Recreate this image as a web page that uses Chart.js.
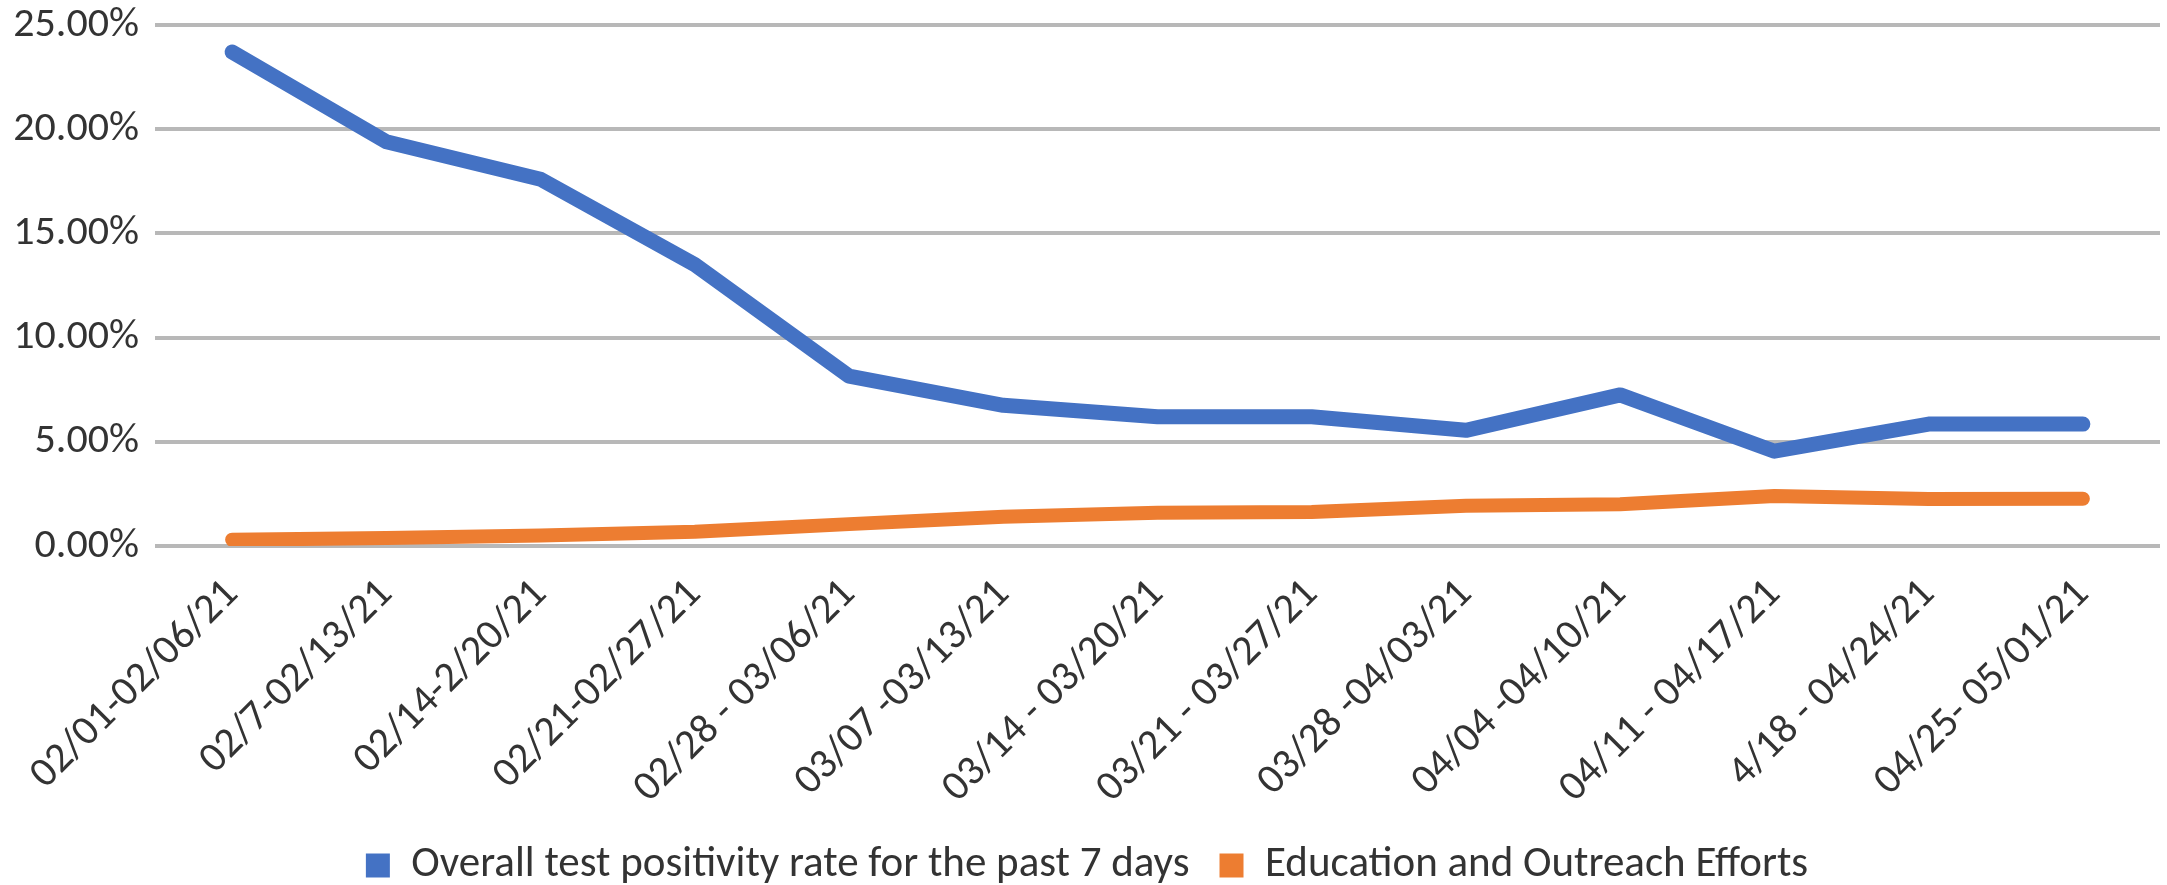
<!DOCTYPE html>
<html>
<head>
<meta charset="utf-8">
<title>Test positivity</title>
<script src="https://cdn.jsdelivr.net/npm/chart.js@4/dist/chart.umd.min.js"></script>
<style>
  html, body { margin: 0; padding: 0; background: #fff; }
  #wrap { width: 2167px; height: 885px; }
</style>
</head>
<body>
<div id="wrap"><canvas id="chart" width="2167" height="885"></canvas></div>
<script>
// week ranges, as written on the x axis
const weeks = [
    '02/01-02/06/21', '02/7-02/13/21', '02/14-2/20/21', '02/21-02/27/21',
    '02/28 - 03/06/21', '03/07 -03/13/21', '03/14 - 03/20/21', '03/21 - 03/27/21',
    '03/28 -04/03/21', '04/04 -04/10/21', '04/11 - 04/17/21', '4/18 - 04/24/21',
    '04/25- 05/01/21'
];

// as fractions
const positivity = [0.237, 0.194, 0.176, 0.135, 0.0815, 0.0675, 0.062, 0.062, 0.0555, 0.0725, 0.0455, 0.0585, 0.0585];
const outreach = [0.003, 0.0038, 0.005, 0.0068, 0.0105, 0.014, 0.016, 0.0163, 0.0193, 0.02, 0.024, 0.0225, 0.0227];

const yTicks = [0, 0.05, 0.10, 0.15, 0.20, 0.25];

const FONT = "Carlito, 'Liberation Sans Narrow', 'Open Sans', sans-serif";
const TEXT = '#333333';

const ctx = document.getElementById('chart').getContext('2d');
new Chart(ctx, {
    type: 'line',
    data: {
        labels: weeks,
        datasets: [
            {
                label: 'Overall test positivity rate for the past 7 days',
                data: positivity,
                borderColor: '#4472C4',
                backgroundColor: '#4472C4',
                borderWidth: 15,
                borderCapStyle: 'round',
                borderJoinStyle: 'round',
                pointRadius: 0,
                tension: 0
            },
            {
                label: 'Education and Outreach Efforts',
                data: outreach,
                borderColor: '#ED7D31',
                backgroundColor: '#ED7D31',
                borderWidth: 14,
                borderCapStyle: 'round',
                borderJoinStyle: 'round',
                pointRadius: 0,
                tension: 0
            }
        ]
    },
    options: {
        responsive: false,
        devicePixelRatio: 1,
        animation: false,
        // negative bottom pulls the legend towards the edge, like the original
        layout: { padding: { top: 0, right: 7, left: 14, bottom: -12 } },
        plugins: {
            tooltip: { enabled: false },
            legend: {
                position: 'bottom',
                labels: {
                    color: TEXT,
                    font: { family: FONT, size: 43, lineHeight: 1.1 },
                    boxWidth: 24,
                    boxHeight: 24,
                    padding: 30,
                    // plain filled squares, no thick stroke from the line width
                    generateLabels: function(chart) {
                        const items = Chart.defaults.plugins.legend.labels.generateLabels(chart);
                        return items.map(it => Object.assign(it, { lineWidth: 0 }));
                    }
                }
            }
        },
        scales: {
            x: {
                offset: true,
                grid: { display: false },
                border: { display: false },
                ticks: {
                    color: TEXT,
                    font: { family: FONT, size: 42 },
                    minRotation: 45,
                    maxRotation: 45,
                    padding: 16,
                    autoSkip: false
                },
                afterFit: function(scale) { scale.height = 268; }
            },
            y: {
                min: 0,
                max: 0.25,
                afterBuildTicks: function(scale) {
                    scale.ticks = yTicks.map(v => ({ value: v }));
                },
                grid: { color: '#b8b8b8', lineWidth: 4, drawTicks: false },
                border: { display: false },
                ticks: {
                    color: TEXT,
                    font: { family: FONT, size: 42, lineHeight: 1 },
                    padding: 16,
                    callback: v => (v * 100).toFixed(2) + '%'
                },
                afterFit: function(scale) {
                    scale.width = 141;
                    scale.paddingTop = 25; // top gridline sits close to the edge
                }
            }
        }
    }
});
</script>
</body>
</html>
